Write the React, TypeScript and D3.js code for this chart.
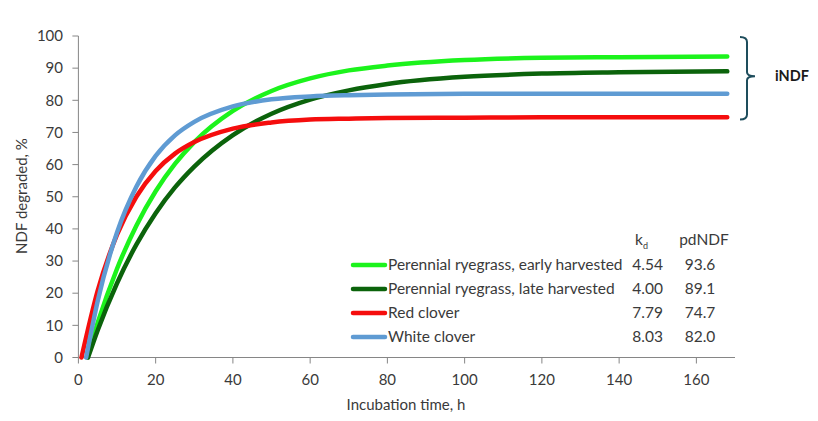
import React from "react";
import * as d3 from "d3";

const hours = [5, 10, 15, 20, 25, 30, 40, 50, 60, 70, 80, 100, 120, 140, 168];
const startHours = [2.3, 2.5, 0.8, 2.0];
const earlyRyegrass = [10.8, 27.6, 41.0, 51.7, 60.2, 67.0, 76.7, 82.9, 86.8, 89.3, 90.8, 92.5, 93.2, 93.4, 93.6];
const lateRyegrass = [8.5, 23.1, 35.1, 44.9, 52.9, 59.4, 69.2, 75.8, 80.2, 83.1, 85.1, 87.3, 88.3, 88.7, 89.0];
const redClover = [20.8, 38.2, 50.0, 58.0, 63.4, 67.0, 71.2, 73.1, 74.0, 74.3, 74.5, 74.6, 74.7, 74.7, 74.7];
const whiteClover = [17.6, 38.9, 53.1, 62.7, 69.1, 73.3, 78.1, 80.3, 81.2, 81.6, 81.8, 82.0, 82.0, 82.0, 82.0];

const seriesNames = [
  "Perennial ryegrass, early harvested",
  "Perennial ryegrass, late harvested",
  "Red clover",
  "White clover",
];
const kdValues = ["4.54", "4.00", "7.79", "8.03"];
const pdNDFValues = ["93.6", "89.1", "74.7", "82.0"];
const colors = ["#1cf31c", "#0b630b", "#f50d0d", "#5f9bd3"];
const xTicks = [0, 20, 40, 60, 80, 100, 120, 140, 160];
const yTicks = [0, 10, 20, 30, 40, 50, 60, 70, 80, 90, 100];

const W = 818;
const H = 421;
const FONT = "Lato, 'Open Sans', sans-serif";
const TEXT = "#3a3a3a";
const AXIS = "#868686";

export default function App() {
  const x = d3.scaleLinear().domain([0, 170]).range([78.4, 735]);
  const y = d3.scaleLinear().domain([0, 100]).range([357.5, 36]);
  const allValues = [earlyRyegrass, lateRyegrass, redClover, whiteClover];
  const line = d3
    .line<[number, number]>()
    .x((d) => x(d[0]))
    .y((d) => y(d[1]))
    .curve(d3.curveMonotoneX);

  const legendY = [265, 289, 313, 337];
  const LF = 15.5;

  return (
    <svg
      width={W}
      height={H}
      style={{ position: "absolute", left: 0, top: 0, background: "#fff" }}
      fontFamily={FONT}
    >
      {/* y axis */}
      <line x1={x(0)} x2={x(0)} y1={y(0)} y2={y(100)} stroke={AXIS} strokeWidth={1} />
      {yTicks.map((t) => (
        <g key={"y" + t}>
          <line x1={x(0) - 6} x2={x(0)} y1={y(t)} y2={y(t)} stroke={AXIS} />
          <text x={63} y={y(t)} dy="0.35em" textAnchor="end" fontSize={15} fill={TEXT}>
            {t}
          </text>
        </g>
      ))}
      {/* x axis */}
      <line x1={x(0)} x2={x(170)} y1={y(0)} y2={y(0)} stroke={AXIS} strokeWidth={1} />
      {xTicks.map((t) => (
        <g key={"x" + t}>
          <line x1={x(t)} x2={x(t)} y1={y(0)} y2={y(0) + 6} stroke={AXIS} />
          <text x={x(t)} y={380} dy="0.35em" textAnchor="middle" fontSize={15} fill={TEXT}>
            {t}
          </text>
        </g>
      ))}
      <text x={406} y={405} dy="0.35em" textAnchor="middle" fontSize={15} fill={TEXT}>
        Incubation time, h
      </text>
      <text
        transform={`translate(22,196) rotate(-90)`}
        textAnchor="middle"
        dy="0.35em"
        fontSize={15}
        fill={TEXT}
      >
        NDF degraded, %
      </text>

      {/* curves */}
      {allValues.map((vals, i) => {
        const pts: [number, number][] = [[startHours[i], 0], ...hours.map((h, j) => [h, vals[j]] as [number, number])];
        return (
          <path
            key={"s" + i}
            d={line(pts) || ""}
            fill="none"
            stroke={colors[i]}
            strokeWidth={4.5}
            strokeLinecap="round"
          />
        );
      })}

      {/* legend */}
      <text x={635} y={240} dy="0.35em" fontSize={LF} fill={TEXT}>
        k<tspan fontSize={9} dy="4">d</tspan>
      </text>
      <text x={704} y={240} dy="0.35em" textAnchor="middle" fontSize={LF} fill={TEXT}>
        pdNDF
      </text>
      {seriesNames.map((name, i) => (
        <g key={"l" + i}>
          <line
            x1={353}
            x2={385}
            y1={legendY[i]}
            y2={legendY[i]}
            stroke={colors[i]}
            strokeWidth={4.5}
            strokeLinecap="round"
          />
          <text x={388} y={legendY[i]} dy="0.35em" fontSize={LF} fill={TEXT}>
            {name}
          </text>
          <text x={663} y={legendY[i]} dy="0.35em" textAnchor="end" fontSize={LF} fill={TEXT}>
            {kdValues[i]}
          </text>
          <text x={700} y={legendY[i]} dy="0.35em" textAnchor="middle" fontSize={LF} fill={TEXT}>
            {pdNDFValues[i]}
          </text>
        </g>
      ))}

      {/* iNDF bracket */}
      <path
        d={`M740,${y(100) + 1} Q747,${y(100) + 1} 747,${y(100) + 6} L747,${y(87.5) - 4} Q747,${y(87.5)} 755,${y(87.5)} Q747,${y(87.5)} 747,${y(87.5) + 4} L747,${y(74) - 5} Q747,${y(74)} 740,${y(74)}`}
        fill="none"
        stroke="#1e4d5c"
        strokeWidth={2}
      />
      <text x={775} y={y(87.5)} dy="0.35em" fontSize={14.5} fontWeight="bold" fill="#1a1a1a">
        iNDF
      </text>
    </svg>
  );
}
